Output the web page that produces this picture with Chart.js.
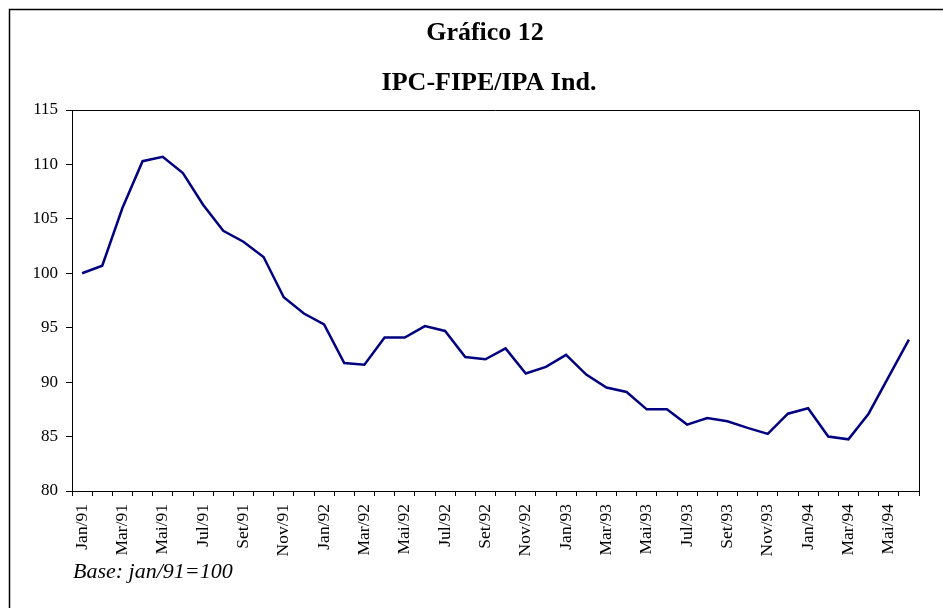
<!DOCTYPE html>
<html lang="pt">
  <script src="https://cdn.jsdelivr.net/npm/chart.js@4/dist/chart.umd.min.js"></script>
  <head>
    <meta charset="UTF-8" />
    <title>Gráfico 12</title>
    <style>
      html, body { margin: 0; padding: 0; background: #fff; }
      #wrap { width: 943px; height: 608px; position: relative; }
    </style>
  </head>
  <body>
    <div id="wrap"><canvas id="chart" width="943" height="608"></canvas></div>
    <script>
      var meses = ["Jan", "Fev", "Mar", "Abr", "Mai", "Jun", "Jul", "Ago", "Set", "Out", "Nov", "Dez"];
      var labels = [
        "Jan/91","Fev/91","Mar/91","Abr/91","Mai/91","Jun/91","Jul/91","Ago/91","Set/91","Out/91","Nov/91","Dez/91",
        "Jan/92","Fev/92","Mar/92","Abr/92","Mai/92","Jun/92","Jul/92","Ago/92","Set/92","Out/92","Nov/92","Dez/92",
        "Jan/93","Fev/93","Mar/93","Abr/93","Mai/93","Jun/93","Jul/93","Ago/93","Set/93","Out/93","Nov/93","Dez/93",
        "Jan/94","Fev/94","Mar/94","Abr/94","Mai/94","Jun/94"
      ];
      var ipcIpa = [
        100.0, 100.7, 106.0, 110.3, 110.7, 109.2, 106.3, 103.9, 102.9, 101.5, 97.8, 96.3,
        95.3, 91.75, 91.6, 94.1, 94.1, 95.15, 94.7, 92.3, 92.1, 93.1, 90.8, 91.4,
        92.5, 90.7, 89.5, 89.1, 87.5, 87.5, 86.1, 86.7, 86.4, 85.8, 85.25, 87.1,
        87.6, 85.0, 84.75, 87.1, 90.5, 93.9
      ];
      var yMin = 80, yMax = 115, yStep = 5;

      // titles, base note, plot box and the outer frame
      var extras = {
        id: "extras",
        afterDraw: function (chart) {
          var c = chart.ctx, a = chart.chartArea;
          c.save();
          c.strokeStyle = "#000";
          c.lineWidth = 1;
          c.beginPath();
          c.moveTo(a.left, a.top + 0.5);
          c.lineTo(a.right + 0.5, a.top + 0.5);
          c.lineTo(a.right + 0.5, a.bottom);
          c.stroke();
          c.lineWidth = 1.5;
          c.beginPath();
          c.moveTo(9.5, 608);
          c.lineTo(9.5, 9.5);
          c.lineTo(943, 9.5);
          c.stroke();
          c.fillStyle = "#000";
          c.textAlign = "center";
          c.textBaseline = "alphabetic";
          c.font = "bold 26px 'Liberation Serif'";
          c.fillText("Gráfico 12", 485, 40);
          c.fillText("IPC-FIPE/IPA Ind.", 489, 90);
          c.textAlign = "left";
          c.font = "italic 22px 'Liberation Serif'";
          c.fillText("Base: jan/91=100", 73, 578);
          c.restore();
        }
      };

      new Chart("chart", {
        type: "line",
        data: {
          labels: labels,
          datasets: [{
            data: ipcIpa,
            borderColor: "#000080",
            borderWidth: 2.5,
            pointRadius: 0,
            tension: 0,
            fill: false
          }]
        },
        options: {
          responsive: false,
          animation: false,
          layout: { padding: { left: 0, top: 110, right: 24, bottom: 0 } },
          plugins: { legend: { display: false }, tooltip: { enabled: false } },
          scales: {
            x: {
              offset: true,
              grid: { offset: true, drawOnChartArea: false, tickLength: 5, color: "#000" },
              border: { color: "#000", width: 1 },
              ticks: {
                autoSkip: false,
                maxRotation: 90,
                minRotation: 90,
                padding: 8,
                color: "#000",
                font: { family: "Liberation Serif", size: 17.5 },
                callback: function (v, i) { return i % 2 === 0 ? this.getLabelForValue(v) : ""; }
              },
              afterFit: function (s) { s.height = 117; }
            },
            y: {
              min: yMin,
              max: yMax,
              grid: { drawOnChartArea: false, tickLength: 6, color: "#000" },
              border: { color: "#000", width: 1 },
              ticks: {
                stepSize: yStep,
                padding: 8,
                color: "#000",
                font: { family: "Liberation Serif", size: 17 }
              },
              afterFit: function (s) { s.width = 72; }
            }
          }
        },
        plugins: [extras]
      });
    </script>
  </body>
</html>
